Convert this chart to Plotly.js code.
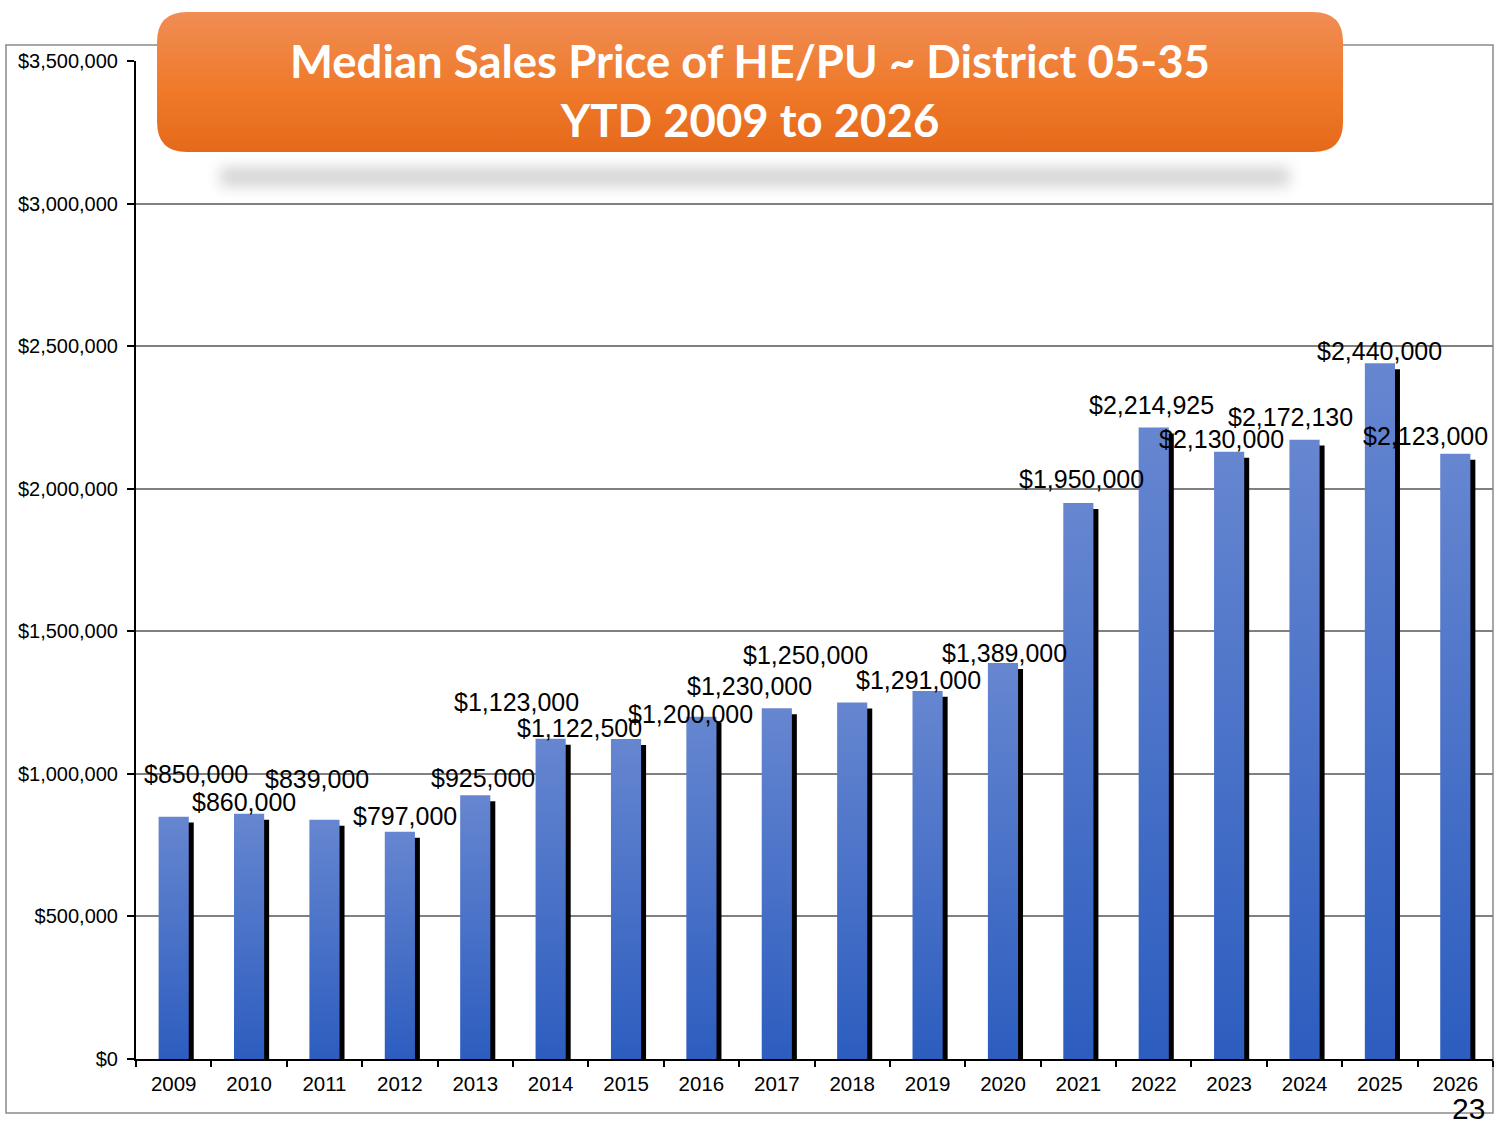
<!DOCTYPE html>
<html>
<head>
<meta charset="utf-8">
<script src="https://cdn.plot.ly/plotly-3.0.1.min.js"></script>
<style>
  html, body { margin:0; padding:0; background:#fff; }
  #chart { width:1500px; height:1125px; }
</style>
</head>
<body>
<div id="chart"></div>
<script>
var years = ['2009','2010','2011','2012','2013','2014','2015','2016','2017',
             '2018','2019','2020','2021','2022','2023','2024','2025','2026'];
var prices = [850000, 860000, 839000, 797000, 925000, 1123000, 1122500, 1200000, 1230000,
              1250000, 1291000, 1389000, 1950000, 2214925, 2130000, 2172130, 2440000, 2123000];
var yTicks = [0, 500000, 1000000, 1500000, 2000000, 2500000, 3000000, 3500000];
// label nudges in px (the source slide has the labels dragged around)
var labelDx = [22, -5, -7, 5, 8, -34, -47, -11, -27, -47, -9, 2, 3, -2, -8, -14, 0, -30];
var labelDy = [43, 12, 41, 16, 17, 37, 11, 3, 22, 48, 11, 10, 24, 22, 13, 23, 12, 18];

var shadowDrop = 21000; // ~6px down
var font = 'Liberation Sans, Arial, sans-serif';

var shadowTrace = {
  type:'bar',
  x:years,
  y:prices,
  base:-shadowDrop,
  width:0.4,
  offset:-0.2 + 0.066,
  marker:{color:'#000', line:{width:0}},
  hoverinfo:'skip'
};
var barTrace = {
  type:'bar',
  x:years,
  y:prices,
  width:0.4,
  offset:-0.2,
  marker:{color:'#4a72c8', line:{width:0}},
  hoverinfo:'skip'
};

// category index as x so the year strings are not read as numbers
var annotations = years.map(function(yr, i){
  return {
    x:i, y:prices[i], xref:'x', yref:'y',
    text:'$' + prices[i].toLocaleString('en-US'),
    showarrow:false,
    xanchor:'center', yanchor:'middle',
    xshift:labelDx[i], yshift:labelDy[i],
    font:{family:font, size:25, color:'#000'}
  };
});
annotations.push({
  x:0.982, y:-0.0675, xref:'paper', yref:'paper',
  text:'23', showarrow:false, xanchor:'center', yanchor:'bottom', borderpad:0,
  font:{family:font, size:30, color:'#000'}
});

// rounded title box in paper coords
var bx0 = 0.0155, bx1 = 0.8895, by0 = 0.9088, by1 = 1.0491, rx = 0.0221, ry = 0.0301;
var boxPath = 'M' + (bx0+rx) + ',' + by1 + ' L' + (bx1-rx) + ',' + by1 +
  ' Q' + bx1 + ',' + by1 + ' ' + bx1 + ',' + (by1-ry) +
  ' L' + bx1 + ',' + (by0+ry) +
  ' Q' + bx1 + ',' + by0 + ' ' + (bx1-rx) + ',' + by0 +
  ' L' + (bx0+rx) + ',' + by0 +
  ' Q' + bx0 + ',' + by0 + ' ' + bx0 + ',' + (by0+ry) +
  ' L' + bx0 + ',' + (by1-ry) +
  ' Q' + bx0 + ',' + by1 + ' ' + (bx0+rx) + ',' + by1 + ' Z';

var layout = {
  width:1500,
  height:1125,
  margin:{l:136, r:7, t:61, b:66},
  paper_bgcolor:'#fff',
  plot_bgcolor:'#fff',
  barmode:'overlay',
  showlegend:false,
  title:{
    text:'Median Sales Price of HE/PU ~ District 05-35<br>YTD 2009 to 2026',
    x:0.5, xref:'container', xanchor:'center',
    y:0.931, yref:'container', yanchor:'middle',
    font:{family:'Lato, sans-serif', size:45.5, color:'#fff', weight:'bold'}
  },
  xaxis:{
    type:'category',
    showline:true, linecolor:'#000', linewidth:2,
    ticks:'outside', tickson:'boundaries', ticklen:6, tickcolor:'#000', tickwidth:2,
    showgrid:false,
    ticklabelstandoff:5,
    tickfont:{family:font, size:20.5, color:'#000'},
    range:[-0.5, 17.5]
  },
  yaxis:{
    range:[0, 3500000],
    tickvals:yTicks,
    tickformat:'$,.0f',
    showline:true, linecolor:'#000', linewidth:2,
    ticks:'outside', ticklen:7, tickcolor:'#000', tickwidth:2,
    showgrid:true, gridcolor:'#808080', gridwidth:2,
    zeroline:false,
    ticklabelstandoff:5,
    tickfont:{family:font, size:20, color:'#000'}
  },
  shapes:[
    {type:'rect', xref:'paper', yref:'paper', x0:-0.0958, x1:1.0, y0:-0.0541, y1:1.016,
     line:{color:'#8a8a8a', width:1.5}, fillcolor:'rgba(0,0,0,0)', layer:'below'},
    {type:'rect', xref:'paper', yref:'paper', x0:0.062, x1:0.85, y0:0.874, y1:0.894,
     line:{width:0}, fillcolor:'rgba(0,0,0,0.16)', layer:'above', name:'boxshadow'},
    {type:'path', xref:'paper', yref:'paper', path:boxPath,
     line:{width:0}, fillcolor:'#ee7a2c', layer:'above', name:'titlebox'}
  ],
  annotations:annotations
};

Plotly.newPlot('chart', [shadowTrace, barTrace], layout, {displayModeBar:false, staticPlot:true}).then(function(gd){
  var ns = 'http://www.w3.org/2000/svg';
  var svg = gd.querySelector('.main-svg');
  var defs = svg.querySelector('defs');

  function grad(id, stops){
    var g = document.createElementNS(ns, 'linearGradient');
    g.setAttribute('id', id);
    g.setAttribute('x1', '0'); g.setAttribute('y1', '0');
    g.setAttribute('x2', '0'); g.setAttribute('y2', '1');
    stops.forEach(function(s){
      var st = document.createElementNS(ns, 'stop');
      st.setAttribute('offset', s[0]);
      st.setAttribute('stop-color', s[1]);
      g.appendChild(st);
    });
    defs.appendChild(g);
  }
  grad('barGrad', [['0', '#6686d0'], ['1', '#2c5dbf']]);
  grad('boxGrad', [['0', '#f08d55'], ['0.55', '#ef7a2a'], ['1', '#e6691a']]);

  var f = document.createElementNS(ns, 'filter');
  f.setAttribute('id', 'softBlur');
  f.setAttribute('x', '-0.1'); f.setAttribute('y', '-2');
  f.setAttribute('width', '1.2'); f.setAttribute('height', '5');
  var blur = document.createElementNS(ns, 'feGaussianBlur');
  blur.setAttribute('stdDeviation', '7');
  f.appendChild(blur);
  defs.appendChild(f);

  var traces = gd.querySelectorAll('.barlayer .trace');
  traces[1].querySelectorAll('path').forEach(function(p){
    p.style.fill = 'url(#barGrad)';
  });

  var shapes = gd.querySelectorAll('.layer-above .shapelayer path');
  if(shapes.length >= 2){
    shapes[0].style.filter = 'url(#softBlur)';
    shapes[1].style.fill = 'url(#boxGrad)';
  }
});
</script>
</body>
</html>
